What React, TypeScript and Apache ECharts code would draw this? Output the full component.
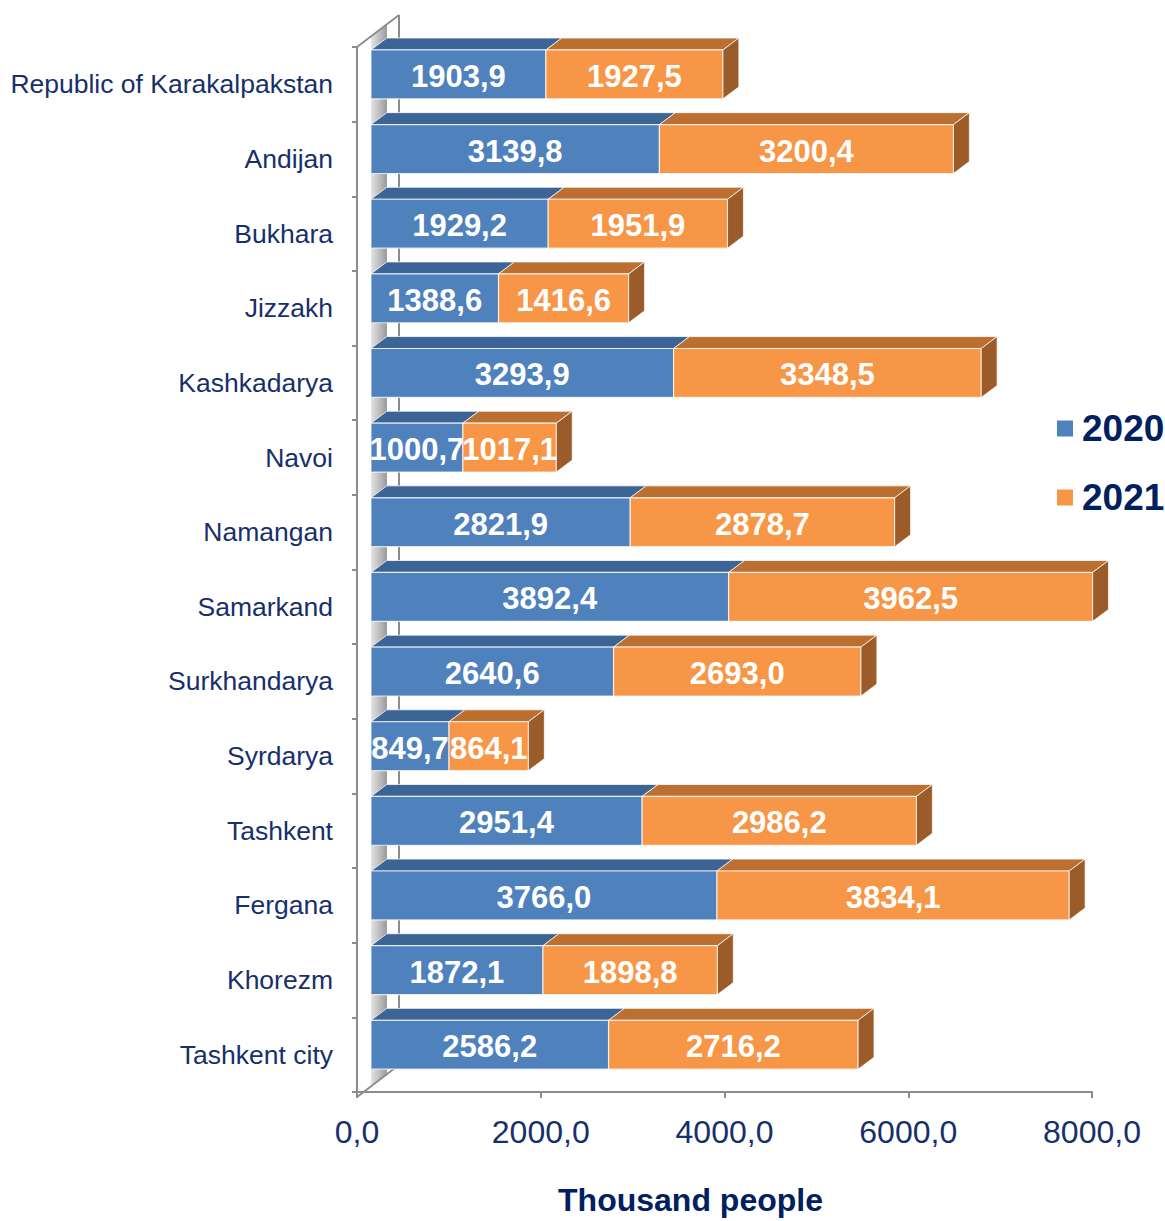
import React, { useEffect, useRef } from "react";
import * as echarts from "echarts";

const CATEGORIES = [
  "Republic of Karakalpakstan",
  "Andijan",
  "Bukhara",
  "Jizzakh",
  "Kashkadarya",
  "Navoi",
  "Namangan",
  "Samarkand",
  "Surkhandarya",
  "Syrdarya",
  "Tashkent",
  "Fergana",
  "Khorezm",
  "Tashkent city",
];
const V2020 = [1903.9, 3139.8, 1929.2, 1388.6, 3293.9, 1000.7, 2821.9, 3892.4, 2640.6, 849.7, 2951.4, 3766.0, 1872.1, 2586.2];
const V2021 = [1927.5, 3200.4, 1951.9, 1416.6, 3348.5, 1017.1, 2878.7, 3962.5, 2693.0, 864.1, 2986.2, 3834.1, 1898.8, 2716.2];
const SERIES_NAMES = ["2020", "2021"];
const X_MIN = 0;
const X_MAX = 8000;
const X_STEP = 2000;

const FONT = "'Liberation Sans', Arial, sans-serif";
const NAVY = "#17306B";

const fmt = (v: number) => v.toFixed(1).replace(".", ",");

const COLORS = [
  { front: "#4F81BD", top: "#3C6494", side: "#335A86" },
  { front: "#F79646", top: "#BB6F31", side: "#9C5C29" },
];

function makeRender(si: number) {
  return (params: any, api: any) => {
    const cat = api.value(0);
    const start = api.value(1);
    const end = api.value(2);
    const val = api.value(3);
    const band = api.size([0, 1])[1];
    const p0 = api.coord([start, cat]);
    const p1 = api.coord([end, cat]);
    const off = band * 0.187; // depth offset of front face
    const dx = band * 0.213;
    const dy = band * 0.16;
    const h = band * 0.655;
    const x0 = p0[0] + off;
    const x1 = p1[0] + off;
    const top = p0[1] - band * 0.133 - h / 2;
    const c = COLORS[si];
    const stroke = "rgba(255,255,255,0.75)";
    const children: any[] = [
      {
        type: "polygon",
        shape: { points: [[x0, top], [x0 + dx, top - dy], [x1 + dx, top - dy], [x1, top]] },
        style: { fill: c.top, stroke, lineWidth: 1 },
      },
      {
        type: "rect",
        shape: { x: x0, y: top, width: x1 - x0, height: h },
        style: { fill: c.front, stroke, lineWidth: 1.2 },
      },
    ];
    if (si === SERIES_NAMES.length - 1) {
      children.push({
        type: "polygon",
        shape: { points: [[x1, top], [x1 + dx, top - dy], [x1 + dx, top - dy + h], [x1, top + h]] },
        style: { fill: c.side, stroke, lineWidth: 1 },
      });
    }
    children.push({
      type: "text",
      style: {
        x: (x0 + x1) / 2,
        y: top + h / 2 + 2,
        text: fmt(val),
        fill: "#ffffff",
        font: `bold 31px ${FONT}`,
        align: "center",
        verticalAlign: "middle",
      },
    });
    return { type: "group", children };
  };
}

export default function App() {
  const ref = useRef<HTMLDivElement>(null);
  useEffect(() => {
    if (!ref.current) return;
    const chart = echarts.init(ref.current, null, { renderer: "svg" });
    const data2020 = CATEGORIES.map((_, i) => [i, 0, V2020[i], V2020[i]]);
    const data2021 = CATEGORIES.map((_, i) => [i, V2020[i], V2020[i] + V2021[i], V2021[i]]);
    const grey = "#8C8C8C";
    chart.setOption({
      animation: false,
      backgroundColor: "#ffffff",
      grid: { left: 357, right: 73, top: 47, bottom: 124, containLabel: false },
      legend: {
        data: SERIES_NAMES,
        orient: "vertical",
        left: 1052,
        top: 405,
        itemWidth: 16,
        itemHeight: 16,
        itemGap: 32,
        icon: "rect",
        textStyle: { fontFamily: FONT, fontSize: 37, fontWeight: "bold", color: "#002060", padding: [0, 0, 0, 4] },
        selectedMode: false,
      },
      xAxis: {
        type: "value",
        min: X_MIN,
        max: X_MAX,
        interval: X_STEP,
        splitLine: { show: false },
        axisLine: { show: true, lineStyle: { color: grey, width: 2 } },
        axisTick: { show: true, length: 6, lineStyle: { color: grey, width: 2 } },
        axisLabel: {
          formatter: (v: number) => fmt(v),
          fontFamily: FONT,
          fontSize: 32,
          color: NAVY,
          margin: 24,
        },
        name: "Thousand people",
        nameLocation: "middle",
        nameGap: 92,
        nameTextStyle: { fontFamily: FONT, fontSize: 32, fontWeight: "bold", color: "#002060", padding: [0, 68, 0, 0] },
      },
      yAxis: {
        type: "category",
        data: CATEGORIES,
        inverse: true,
        axisLine: { show: true, lineStyle: { color: grey, width: 2 } },
        axisTick: { show: true, length: 5, lineStyle: { color: grey, width: 2 } },
        axisLabel: { fontFamily: FONT, fontSize: 26.5, color: NAVY, margin: 24, padding: [4, 0, 0, 0] },
        splitLine: { show: false },
      },
      graphic: [
        {
          type: "polygon",
          z: 0,
          shape: { points: [[371, 36], [387, 24], [387, 1074], [371, 1086]] },
          style: {
            fill: new echarts.graphic.LinearGradient(0, 0, 1, 0, [
              { offset: 0, color: "#E4E4E4" },
              { offset: 1, color: "#9A9A9A" },
            ]),
          },
        },
        { type: "line", z: 0, shape: { x1: 399, y1: 15, x2: 399, y2: 1065 }, style: { stroke: grey, lineWidth: 2 } },
        { type: "line", z: 0, shape: { x1: 357, y1: 47, x2: 399, y2: 15 }, style: { stroke: grey, lineWidth: 2 } },
        { type: "line", z: 0, shape: { x1: 357, y1: 1097, x2: 399, y2: 1065 }, style: { stroke: grey, lineWidth: 2 } },
      ],
      series: [
        {
          name: SERIES_NAMES[0],
          type: "custom",
          renderItem: makeRender(0),
          encode: { x: [1, 2], y: 0 },
          data: data2020,
          itemStyle: { color: COLORS[0].front },
          z: 5,
        },
        {
          name: SERIES_NAMES[1],
          type: "custom",
          renderItem: makeRender(1),
          encode: { x: [1, 2], y: 0 },
          data: data2021,
          itemStyle: { color: COLORS[1].front },
          z: 5,
        },
      ],
    });
    return () => chart.dispose();
  }, []);
  return <div ref={ref} style={{ width: 1165, height: 1221, position: "absolute", left: 0, top: 0 }} />;
}
